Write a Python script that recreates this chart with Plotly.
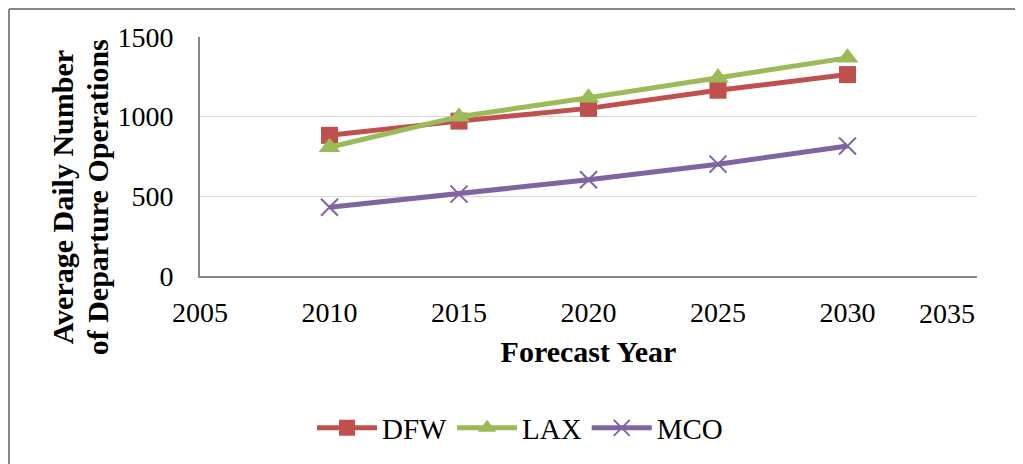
import plotly.graph_objects as go

years = [2010, 2015, 2020, 2025, 2030]
dfw = [883, 972, 1052, 1166, 1264]
lax = [808, 1000, 1119, 1244, 1369]
mco = [431, 514, 604, 702, 816]
x_ticks = [2005, 2010, 2015, 2020, 2025, 2030, 2035]

OFF = 8  # default page body margin
W, H = 1023 - OFF, 464 - OFF
L, T = 200 - OFF, 37 - OFF
R = W - (977 - OFF)
B = H - (277 - OFF)
pw, ph = W - L - R, H - T - B

def px_x(p):
    return (p - OFF - L) / pw

def px_y(p):
    return (H - B - (p - OFF)) / ph

font_family = "Liberation Serif, Times New Roman, serif"

fig = go.Figure()
fig.add_trace(go.Scatter(x=years, y=dfw, name="DFW", mode="lines+markers",
                         line=dict(color="#C0504D", width=5),
                         marker=dict(symbol="square", size=17, color="#C0504D")))
fig.add_trace(go.Scatter(x=years, y=lax, name="LAX", mode="lines+markers",
                         line=dict(color="#9BBB59", width=5),
                         marker=dict(symbol="triangle-up", size=19, color="#9BBB59")))
fig.add_trace(go.Scatter(x=years, y=mco, name="MCO", mode="lines+markers",
                         line=dict(color="#8064A2", width=5),
                         marker=dict(symbol="x-thin", size=17,
                                     line=dict(color="#8064A2", width=2))))

# last tick label is pulled inside the chart in the reference
tick_text = [str(v) for v in x_ticks[:-1]] + [""]

fig.update_layout(
    width=W, height=H,
    margin=dict(l=L, r=R, t=T, b=B),
    paper_bgcolor="white", plot_bgcolor="white",
    font=dict(family=font_family, size=28, color="black"),
    showlegend=True,
    legend=dict(orientation="h", x=px_x(520), xanchor="center", y=px_y(428), yanchor="middle",
                font=dict(size=29), itemwidth=60, traceorder="normal"),
    xaxis=dict(range=[2005, 2035], tickvals=x_ticks, ticktext=tick_text, showgrid=False,
               showline=True, linecolor="#868686", linewidth=2,
               ticks="", ticklabelstandoff=10,
               tickfont=dict(size=28),
               title=dict(text="<b>Forecast Year</b>", font=dict(size=30), standoff=14),
               zeroline=False),
    yaxis=dict(range=[0, 1500], dtick=500, showgrid=True, gridcolor="#D9D9D9", gridwidth=1,
               showline=True, linecolor="#868686", linewidth=2,
               ticks="", ticklabelstandoff=19, tickfont=dict(size=28),
               zeroline=False),
)

fig.add_annotation(text=str(x_ticks[-1]), xref="paper", yref="paper",
                   x=px_x(947), y=px_y(315), showarrow=False,
                   font=dict(size=28), xanchor="center", yanchor="middle")

fig.add_annotation(text="<b>Average Daily Number</b>", textangle=-90,
                   xref="paper", yref="paper", x=px_x(62), y=px_y(198),
                   showarrow=False, font=dict(size=30), xanchor="center", yanchor="middle")
fig.add_annotation(text="<b>of Departure Operations</b>", textangle=-90,
                   xref="paper", yref="paper", x=px_x(97), y=px_y(198),
                   showarrow=False, font=dict(size=30), xanchor="center", yanchor="middle")

# outer chart border (top and left visible)
fig.add_shape(type="line", xref="paper", yref="paper",
              x0=px_x(9), x1=px_x(1030), y0=px_y(9), y1=px_y(9),
              line=dict(color="#868686", width=2))
fig.add_shape(type="line", xref="paper", yref="paper",
              x0=px_x(9), x1=px_x(9), y0=px_y(9), y1=px_y(470),
              line=dict(color="#868686", width=2))

fig.write_html("out.html")
